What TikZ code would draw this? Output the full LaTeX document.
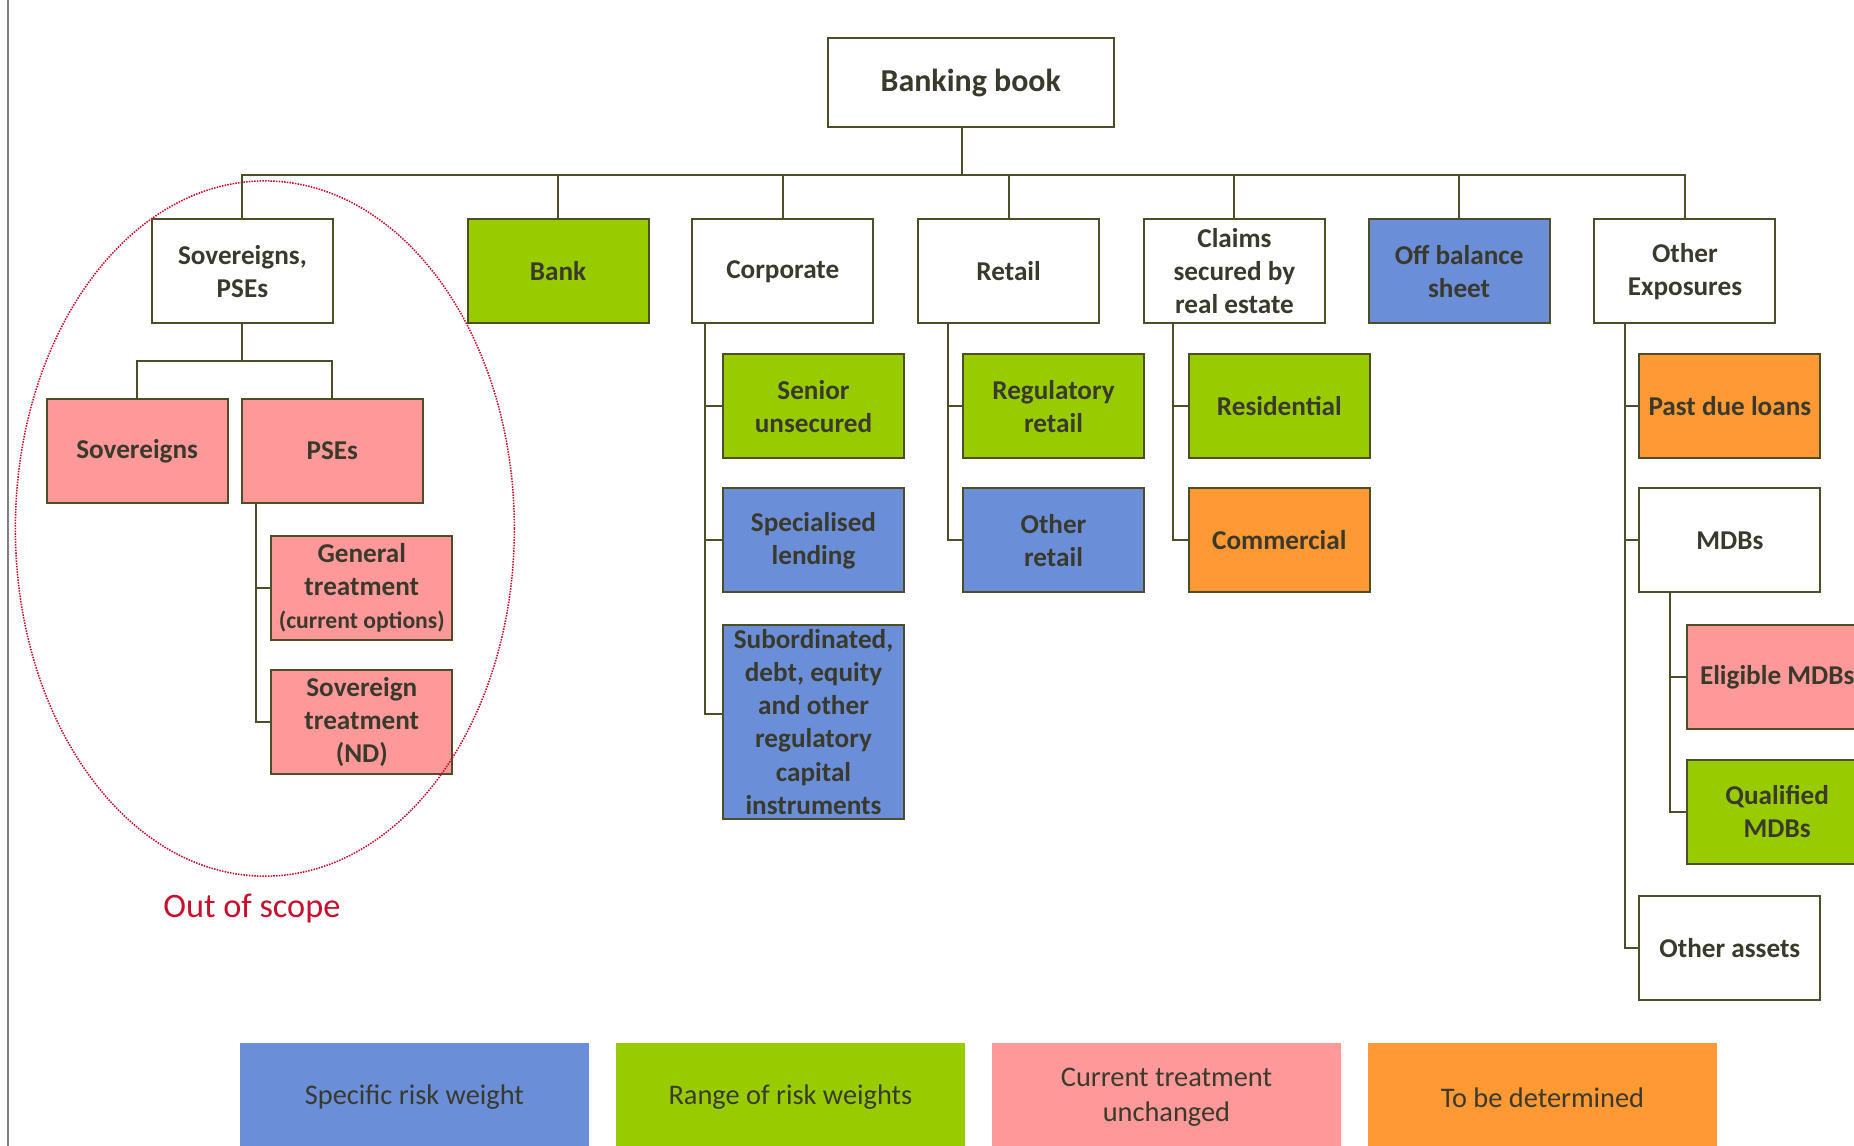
\documentclass[tikz,border=0pt]{standalone}
\usepackage{fontspec}
\setmainfont{Carlito}
\definecolor{edge}{HTML}{4D4D28}
\definecolor{ink}{HTML}{3A3A2C}
\definecolor{grn}{HTML}{99CC00}
\definecolor{blu}{HTML}{6A8ED8}
\definecolor{pnk}{HTML}{FF9999}
\definecolor{org}{HTML}{FF9933}
\definecolor{scope}{HTML}{C8102E}
\begin{document}
\begin{tikzpicture}[x=1pt,y=-1pt,
    box/.style={draw=edge,line width=1.7pt,fill=white,text=ink,align=center,
      inner sep=2pt,minimum width=153pt,minimum height=88pt,
      font=\bfseries\fontsize{23}{28}\selectfont},
    headbox/.style={box,minimum width=242pt,minimum height=75pt,
      font=\bfseries\fontsize{27}{32}\selectfont},
    green/.style={box,fill=grn},
    blue/.style={box,fill=blu},
    pink/.style={box,fill=pnk},
    orange/.style={box,fill=org},
    key/.style={text=ink,align=center,minimum width=295pt,minimum height=92pt,
      font=\fontsize{24}{30}\selectfont},
    link/.style={draw=edge,line width=1.7pt}]
  \clip (0,0) rectangle (1568,969);
  \draw[gray,line width=1.5pt] (7,0) -- (7,969);
  \draw
    (821,70) node[headbox] (bb){Banking book}
    (205,229.5) node[box] (sp){Sovereigns,\\PSEs}
    (472,229.5) node[green] (bank){Bank}
    (662,229.5) node[box] (corp){Corporate}
    (853,229.5) node[box] (ret){Retail}
    (1044,229.5) node[box] (cre){Claims\\secured by\\real estate}
    (1234,229.5) node[blue] (obs){Off balance\\sheet}
    (1425,229.5) node[box] (oth){Other\\Exposures}
    (116,381.5) node[pink] (sov){Sovereigns}
    (281,381.5) node[pink] (pse){PSEs}
    (306,497) node[pink] (gen){General\\treatment\\{\fontsize{20}{24}\selectfont(current options)}}
    (306,610.5) node[pink] (svt){Sovereign\\treatment\\(ND)}
    (688,343.5) node[green] (snr){Senior\\unsecured}
    (688,457) node[blue] (spl){Specialised\\lending}
    (688,610.5) node[blue,minimum height=164pt,text depth=0pt] (sub){Subordinated,\\debt, equity\\and other\\regulatory\\capital\\instruments}
    (891,343.5) node[green] (rr){Regulatory\\retail}
    (891,457) node[blue] (orr){Other\\retail}
    (1082,343.5) node[green] (res){Residential}
    (1082,457) node[orange] (com){Commercial}
    (1463,343.5) node[orange] (pdl){Past due loans}
    (1463,457) node[box] (mdb){MDBs}
    (1503,572.5) node[pink] (emdb){Eligible MDBs}
    (1503,686.5) node[green] (qmdb){Qualified\\MDBs}
    (1463,801.5) node[box] (oa){Other assets};
  \draw[scope,densely dotted,line width=1.3pt] (224,447) ellipse [x radius=211pt,y radius=294pt];
  \node[text=scope,font=\fontsize{29}{34}\selectfont] (oos) at (213,768) {Out of scope};
  \draw
    (350.5,928) node[key,fill=blu] (lg1){Specific risk weight}
    (668.5,928) node[key,fill=grn] (lg2){Range of risk weights}
    (986.5,928) node[key,fill=pnk] (lg3){Current treatment\\unchanged}
    (1304.5,928) node[key,fill=org] (lg4){To be determined};
  \begin{scope}[link]
    \draw ([xshift=-7pt]bb.south) -- ++(0,40) -| (sp.north);
    \draw ([xshift=-7pt]bb.south) -- ++(0,40) -| (bank.north);
    \draw ([xshift=-7pt]bb.south) -- ++(0,40) -| (corp.north);
    \draw ([xshift=-7pt]bb.south) -- ++(0,40) -| (ret.north);
    \draw ([xshift=-7pt]bb.south) -- ++(0,40) -| (cre.north);
    \draw ([xshift=-7pt]bb.south) -- ++(0,40) -| (obs.north);
    \draw ([xshift=-7pt]bb.south) -- ++(0,40) -| (oth.north);
    \draw (sp.south) -- ++(0,31) -| (sov.north);
    \draw (sp.south) -- ++(0,31) -| (pse.north);
    \draw ([xshift=13pt]pse.south west) |- (gen.west);
    \draw ([xshift=13pt]pse.south west) |- (svt.west);
    \draw ([xshift=12pt]corp.south west) |- (snr.west);
    \draw ([xshift=12pt]corp.south west) |- (spl.west);
    \draw ([xshift=12pt]corp.south west) |- ([yshift=7pt]sub.west);
    \draw ([xshift=26pt]ret.south west) |- (rr.west);
    \draw ([xshift=26pt]ret.south west) |- (orr.west);
    \draw ([xshift=25pt]cre.south west) |- (res.west);
    \draw ([xshift=25pt]cre.south west) |- (com.west);
    \draw ([xshift=27pt]oth.south west) |- (pdl.west);
    \draw ([xshift=27pt]oth.south west) |- (mdb.west);
    \draw ([xshift=27pt]oth.south west) |- (oa.west);
    \draw ([xshift=27pt]mdb.south west) |- (emdb.west);
    \draw ([xshift=27pt]mdb.south west) |- (qmdb.west);
  \end{scope}
\end{tikzpicture}
\end{document}
